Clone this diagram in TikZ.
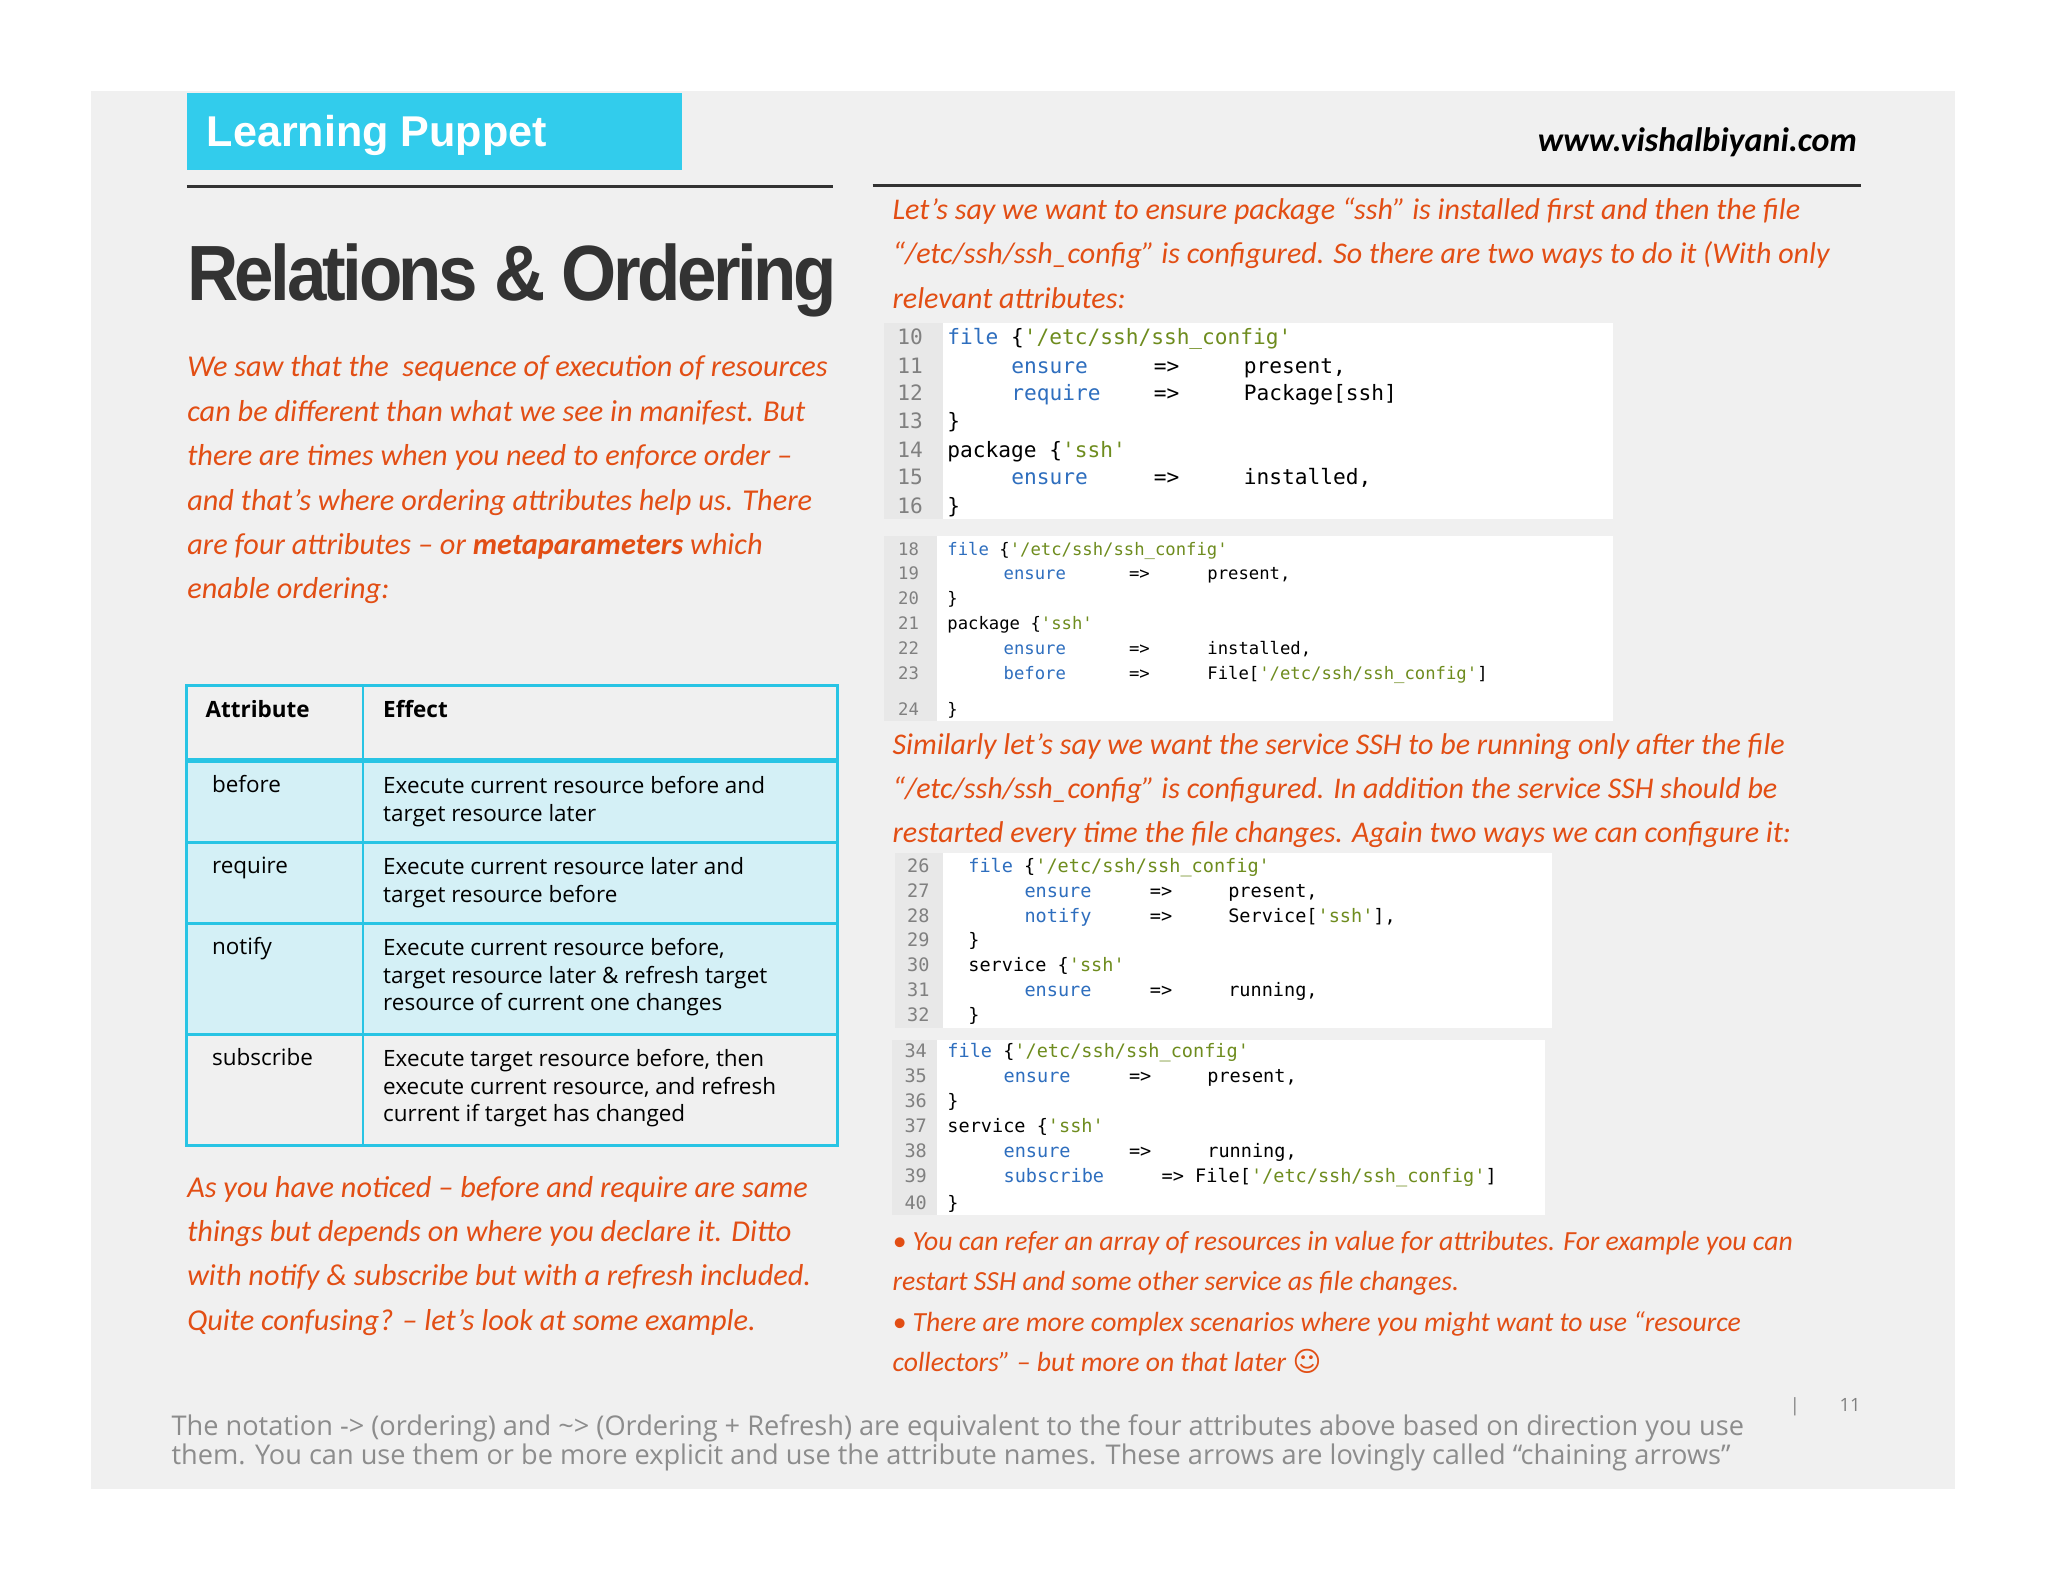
\documentclass[tikz,border=0pt]{standalone}
\usepackage{fontspec}
\setmainfont{Carlito}
\newfontfamily\hdr{Liberation Sans}
\newfontfamily\osans{Open Sans}
\newfontfamily\mono{DejaVu Sans Mono}
\newfontfamily\djv{DejaVu Sans}
\definecolor{org}{RGB}{226,78,20}
\definecolor{cy}{RGB}{50,204,236}
\definecolor{cyb}{RGB}{40,196,228}
\definecolor{cyl}{RGB}{212,240,246}
\definecolor{kwc}{RGB}{46,110,190}
\definecolor{stc}{RGB}{110,140,30}
\definecolor{gut}{RGB}{232,232,232}
\definecolor{bgp}{RGB}{240,240,240}
\newcommand\kw[1]{{\color{kwc}#1}}
\newcommand\sq[1]{{\color{stc}#1}}
\begin{document}
\begin{tikzpicture}[x=0.5pt,y=-0.5pt,
 txt/.style={inner sep=0pt,anchor=base west},
 blk/.style={inner sep=0pt,anchor=north west,align=left},
 para/.style={blk,org,font=\fontsize{11.6}{17}\selectfont\itshape},
 rpara/.style={blk,org,font=\fontsize{11.5}{17}\selectfont\itshape},
 tcell/.style={blk,font=\osans\fontsize{8.6}{10.6}\selectfont},
 num/.style={inner sep=0pt,anchor=base east,gray},
 codebg/.style={fill=white,draw=none},
 gutter/.style={fill=gut,draw=none}]
\useasboundingbox (0,0) rectangle (1568,1211);
\fill[bgp] (70,70) rectangle (1497,1140);
% header
\fill[cy] (143,71) rectangle (522,130);
\node[txt,white,font=\hdr\bfseries\fontsize{16.5}{18}\selectfont] (lp) at (158,112) {Learning Puppet};
\node[inner sep=0pt,anchor=base east,font=\bfseries\itshape\fontsize{13}{15}\selectfont] (web) at (1422,116) {www.vishalbiyani.com};
\draw[line width=1.2pt,black!80] (143,143) -- (638,143);
\draw[line width=1.2pt,black!80] (668,142) -- (1425,142);
\node[txt,black!80,font=\hdr\bfseries\fontsize{30}{32}\selectfont\addfontfeatures{LetterSpace=-5}] (title) at (143,230) {\scalebox{0.905}[1]{Relations \& Ordering}};
% left paragraph
\node[para] (lpar) at (143,272) {We saw that the\ \ sequence of execution of resources\\can be different than what we see in manifest. But\\there are times when you need to enforce order --\\and that’s where ordering attributes help us. There\\are four attributes -- or \textbf{metaparameters} which\\enable ordering:};
% table
\fill[cyl] (143,583) rectangle (641,792);
\draw[cyb,line width=1pt] (143,525) rectangle (641,877);
\draw[cyb,line width=1pt] (278,525) -- (278,877);
\draw[cyb,line width=2pt] (143,582) -- (641,582);
\draw[cyb,line width=1pt] (143,645) -- (641,645);
\draw[cyb,line width=1pt] (143,707) -- (641,707);
\draw[cyb,line width=1pt] (143,792) -- (641,792);
\node[txt,font=\osans\bfseries\fontsize{8.6}{10.6}\selectfont] (ha) at (157,549) {Attribute};
\node[txt,font=\osans\bfseries\fontsize{8.6}{10.6}\selectfont] (he) at (293,549) {Effect};
\node[txt,font=\osans\fontsize{8.6}{10.6}\selectfont] (a1) at (162,607) {before};
\node[tcell] (e1) at (293,594) {Execute current resource before and\\target resource later};
\node[txt,font=\osans\fontsize{8.6}{10.6}\selectfont] (a2) at (162,669) {require};
\node[tcell] (e2) at (293,656) {Execute current resource later and\\target resource before};
\node[txt,font=\osans\fontsize{8.6}{10.6}\selectfont] (a3) at (162,731) {notify};
\node[tcell] (e3) at (293,718) {Execute current resource before,\\target resource later \& refresh target\\resource of current one changes};
\node[txt,font=\osans\fontsize{8.6}{10.6}\selectfont] (a4) at (162,816) {subscribe};
\node[tcell] (e4) at (293,803) {Execute target resource before, then\\execute current resource, and refresh\\current if target has changed};
% left bottom
\node[para] (lbot) at (143,900) {As you have noticed -- before and require are same\\things but depends on where you declare it. Ditto\\with notify \& subscribe but with a refresh included.\\Quite confusing? -- let’s look at some example.};
% right paragraphs
\node[rpara] (r1) at (683,151) {Let’s say we want to ensure package “ssh” is installed first and then the file\\“/etc/ssh/ssh\_config” is configured. So there are two ways to do it (With only\\relevant attributes:};
\node[rpara] (r2) at (683,561) {Similarly let’s say we want the service SSH to be running only after the file\\“/etc/ssh/ssh\_config” is configured. In addition the service SSH should be\\restarted every time the file changes. Again two ways we can configure it:};
\node[blk,org,font=\fontsize{10.6}{15.5}\selectfont\itshape] (r3) at (683,942) {• You can refer an array of resources in value for attributes. For example you can\\restart SSH and some other service as file changes.\\• There are more complex scenarios where you might want to use “resource\\collectors” -- but more on that later {\djv\upshape ☺}};
% code block 1
\fill[codebg] (677,247) rectangle (1235,397);
\fill[gutter] (677,247) rectangle (722,397);
\begin{scope}[every node/.append style={font=\mono\fontsize{8.1}{10}\selectfont}]
\foreach \n/\y in {10/264,11/286,12/307,13/328,14/350,15/371,16/393}{\node[num] at (707,\y) {\n};}
\node[txt] at (725,264) {\kw{file} \{\sq{'/etc/ssh/ssh\_config'}};
\node[txt] at (774,286) {\kw{ensure}}; \node[txt] at (883,286) {=>}; \node[txt] at (952,286) {present,};
\node[txt] at (774,307) {\kw{require}}; \node[txt] at (883,307) {=>}; \node[txt] at (952,307) {Package[ssh]};
\node[txt] at (725,328) {\}};
\node[txt] at (725,350) {package \{\sq{'ssh'}};
\node[txt] at (774,371) {\kw{ensure}}; \node[txt] at (883,371) {=>}; \node[txt] at (952,371) {installed,};
\node[txt] at (725,393) {\}};
\end{scope}
% code block 2
\fill[codebg] (677,410) rectangle (1235,552);
\fill[gutter] (677,410) rectangle (717,552);
\begin{scope}[every node/.append style={font=\mono\fontsize{6.6}{8}\selectfont}]
\foreach \n/\y in {18/425,19/444,20/463,21/482,22/501,23/520,24/548}{\node[num] at (704,\y) {\n};}
\node[txt] at (725,425) {\kw{file} \{\sq{'/etc/ssh/ssh\_config'}};
\node[txt] at (768,444) {\kw{ensure}}; \node[txt] at (864,444) {=>}; \node[txt] at (924,444) {present,};
\node[txt] at (725,463) {\}};
\node[txt] at (725,482) {package \{\sq{'ssh'}};
\node[txt] at (768,501) {\kw{ensure}}; \node[txt] at (864,501) {=>}; \node[txt] at (924,501) {installed,};
\node[txt] at (768,520) {\kw{before}}; \node[txt] at (864,520) {=>}; \node[txt] at (924,520) {File[\sq{'/etc/ssh/ssh\_config'}]};
\node[txt] at (725,548) {\}};
\end{scope}
% code block 3
\fill[codebg] (685,653) rectangle (1188,787);
\fill[gutter] (685,653) rectangle (722,787);
\begin{scope}[every node/.append style={font=\mono\fontsize{7.1}{8}\selectfont}]
\foreach \n/\y in {26/668,27/687,28/706,29/725,30/744,31/763,32/782}{\node[num] at (712,\y) {\n};}
\node[txt] at (741,668) {\kw{file} \{\sq{'/etc/ssh/ssh\_config'}};
\node[txt] at (784,687) {\kw{ensure}}; \node[txt] at (880,687) {=>}; \node[txt] at (940,687) {present,};
\node[txt] at (784,706) {\kw{notify}}; \node[txt] at (880,706) {=>}; \node[txt] at (940,706) {Service[\sq{'ssh'}],};
\node[txt] at (741,725) {\}};
\node[txt] at (741,744) {service \{\sq{'ssh'}};
\node[txt] at (784,763) {\kw{ensure}}; \node[txt] at (880,763) {=>}; \node[txt] at (940,763) {running,};
\node[txt] at (741,782) {\}};
\end{scope}
% code block 4
\fill[codebg] (683,796) rectangle (1183,930);
\fill[gutter] (683,796) rectangle (717,930);
\begin{scope}[every node/.append style={font=\mono\fontsize{7.1}{8}\selectfont}]
\foreach \n/\y in {34/810,35/829,36/848,37/867,38/886,39/905,40/926}{\node[num] at (710,\y) {\n};}
\node[txt] at (725,810) {\kw{file} \{\sq{'/etc/ssh/ssh\_config'}};
\node[txt] at (768,829) {\kw{ensure}}; \node[txt] at (864,829) {=>}; \node[txt] at (924,829) {present,};
\node[txt] at (725,848) {\}};
\node[txt] at (725,867) {service \{\sq{'ssh'}};
\node[txt] at (768,886) {\kw{ensure}}; \node[txt] at (864,886) {=>}; \node[txt] at (924,886) {running,};
\node[txt] at (768,905) {\kw{subscribe}}; \node[txt] at (889,905) {=> File[\sq{'/etc/ssh/ssh\_config'}]};
\node[txt] at (725,926) {\}};
\end{scope}
% footer
\node[txt,gray,font=\osans\fontsize{7}{9}\selectfont] (bar) at (1370,1081) {|};
\node[txt,gray,font=\osans\fontsize{7}{9}\selectfont] (pg) at (1408,1081) {11};
\node[blk,gray!90,font=\osans\fontsize{10.4}{11}\selectfont] (foot) at (131,1083) {The notation -> (ordering) and \textasciitilde> (Ordering + Refresh) are equivalent to the four attributes above based on direction you use\\them. You can use them or be more explicit and use the attribute names. These arrows are lovingly called “chaining arrows”};
\end{tikzpicture}
\end{document}
